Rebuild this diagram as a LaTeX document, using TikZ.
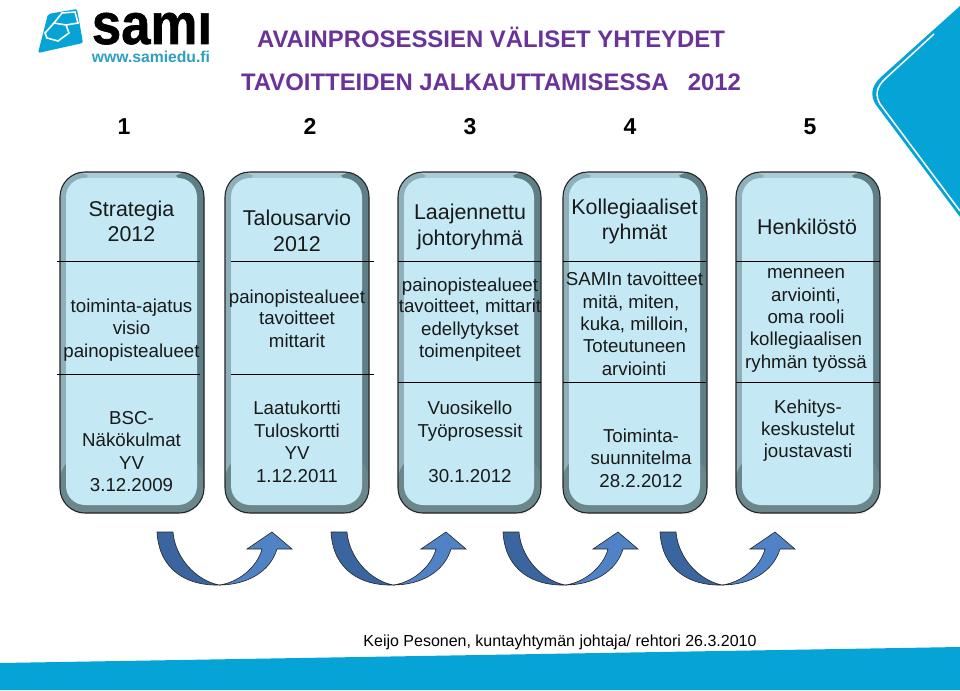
\documentclass[tikz,border=0pt]{standalone}
\usepackage{fontspec}
\setmainfont{Liberation Sans}
\usetikzlibrary{calc}
\definecolor{cardfill}{HTML}{C4E9F5}
\definecolor{bevL}{HTML}{8FB0BA}
\definecolor{bevT}{HTML}{A9CCD6}
\definecolor{bevR}{HTML}{5F7F86}
\definecolor{bevB}{HTML}{6A878C}
\definecolor{titlec}{HTML}{6A3399}
\definecolor{sky}{HTML}{05A3D6}
\definecolor{urlc}{HTML}{2E9FC0}
\definecolor{arrowA}{HTML}{3A659F}
\definecolor{arrowB}{HTML}{5082C6}
\tikzset{
 x=1pt,y=-1pt,
 ttl/.style={font=\fontsize{23.9}{24}\selectfont\bfseries,text=titlec,inner sep=0pt,text height=17pt,text depth=0pt},
 num/.style={font=\fontsize{23}{24}\selectfont\bfseries,inner sep=0pt,text height=16pt,text depth=0pt},
 hd/.style={font=\fontsize{21.4}{24}\selectfont,inner sep=0pt,text=black!90,text height=15pt,text depth=0pt},
 bd/.style={font=\fontsize{18.7}{22}\selectfont,inner sep=0pt,text=black!90,text height=13pt,text depth=0pt},
 foot/.style={font=\fontsize{16}{20}\selectfont,inner sep=0pt,text height=12pt,text depth=0pt},
 sepline/.style={black,line width=0.8pt},
 blockarrow/.style={draw=black!85,line width=0.6pt,line join=miter},
}
\newcommand{\card}[3]{% name, x left, x right
 \begin{scope}
 \fill[bevT,rounded corners=25pt] (#2,172) rectangle (#3,513);
 \fill[bevL,rounded corners=25pt] (#2,172) rectangle ($(#2,513)+(40,0)$);
 \fill[bevR,rounded corners=25pt] ($(#3,172)+(-40,0)$) rectangle (#3,513);
 \fill[bevT,rounded corners=20pt] ($(#2,172)+(20,0)$) rectangle ($(#3,230)+(-20,0)$);
 \fill[bevB,rounded corners=25pt] (#2,455) rectangle (#3,513);
 \fill[cardfill,rounded corners=19pt] ($(#2,178)+(6,0)$) rectangle ($(#3,505)+(-7,0)$);
 \draw[black!85,line width=1.1pt,rounded corners=25pt] (#2,172) rectangle (#3,513);
 \coordinate (#1) at ($(#2,172)!0.5!(#3,513)$);
 \end{scope}
}
\newcommand{\curvearrow}[1]{%
 \begin{scope}[shift={(#1,0)}]
  \filldraw[blockarrow,fill=arrowA] (0,532) -- (16,532) .. controls (18,557) and (38,580) .. (62,585)
    .. controls (30,586) and (2,570) .. (0,532) -- cycle;
  \filldraw[blockarrow,fill=arrowB] (62,585) .. controls (80,583) and (100,568) .. (105,549)
    -- (90,549) -- (115,532) -- (135,549) -- (120,549)
    .. controls (113,572) and (90,585) .. (62,585) -- cycle;
 \end{scope}
}
\begin{document}
\begin{tikzpicture}
\useasboundingbox (0,0) rectangle (960,690);
\fill[white] (0,0) rectangle (960,690);
% corner and band
\fill[sky] (0,663) -- (960,647) -- (960,690) -- (0,690) -- cycle;
\fill[sky] (960,6) -- (881,77) .. controls (871,86) and (870,96) .. (876,105) -- (960,217) -- cycle;
\draw[white,line width=1.5pt] (934,34) -- (886,78) .. controls (876,87) and (875,95) .. (880,104) -- (960,211);
% logo
\fill[sky,rounded corners=2pt] (48,14) -- (77,9) -- (83,43) -- (38,53) -- cycle;
\draw[white,line width=1.6pt] (45,33) -- (54,23) -- (66,25) -- (69,33) -- (58,41) -- (47,38) -- cycle;
\draw[white,line width=1.6pt] (54,23) -- (62,13) -- (75,12) -- (78,23) -- (66,25);
\node[anchor=base,inner sep=0pt,font=\fontsize{58}{58}\selectfont\bfseries,text=black] (logoname) at (152,44) {\addfontfeature{FakeStretch=0.91,FakeBold=1}sami};
\fill[white] (185,0) rectangle (225,13.5);
\node[inner sep=0pt,font=\fontsize{15.7}{16}\selectfont\bfseries,text=urlc] (logourl) at (151,57) {www.samiedu.fi};
% titles
\node[ttl] (t1) at (491,39) {AVAINPROSESSIEN VÄLISET YHTEYDET};
\node[ttl] (t2) at (491,82) {TAVOITTEIDEN JALKAUTTAMISESSA\hspace{0.8em}2012};
\node[num] (n1) at (124,126) {1};
\node[num] (n2) at (310,126) {2};
\node[num] (n3) at (470,126) {3};
\node[num] (n4) at (630,126) {4};
\node[num] (n5) at (810,126) {5};
% cards
\card{c1}{60}{204}
\card{c2}{225}{369}
\card{c3}{398}{541}
\card{c4}{563}{707}
\card{c5}{736}{880}
% separators
\draw[sepline] (57,261) -- (200,261);
\draw[sepline] (57,374) -- (200,374);
\draw[sepline] (231,261) -- (374,261);
\draw[sepline] (231,374) -- (374,374);
\draw[sepline] (398,261) -- (541,261);
\draw[sepline] (398,382) -- (541,382);
\draw[sepline] (563,261) -- (706,261);
\draw[sepline] (563,382) -- (706,382);
\draw[sepline] (736,261) -- (880,261);
\draw[sepline] (736,382) -- (880,382);
% card 1
\node[hd] (a1) at (131.5,209) {Strategia};
\node[hd] (a2) at (131.5,234) {2012};
\node[bd] (a3) at (131.5,306) {toiminta-ajatus};
\node[bd] (a4) at (131.5,328) {visio};
\node[bd] (a5) at (131.5,351) {painopistealueet};
\node[bd] (a6) at (131.5,418) {BSC-};
\node[bd] (a7) at (131.5,440) {Näkökulmat};
\node[bd] (a8) at (131.5,463) {YV};
\node[bd] (a9) at (131.5,485) {3.12.2009};
% card 2
\node[hd] (b1) at (297,218) {Talousarvio};
\node[hd] (b2) at (297,244) {2012};
\node[bd] (b3) at (297,297) {painopistealueet};
\node[bd] (b4) at (297,318) {tavoitteet};
\node[bd] (b5) at (297,341) {mittarit};
\node[bd] (b6) at (297,408) {Laatukortti};
\node[bd] (b7) at (297,431) {Tuloskortti};
\node[bd] (b8) at (297,453) {YV};
\node[bd] (b9) at (297,476) {1.12.2011};
% card 3
\node[hd] (d1) at (470,212) {Laajennettu};
\node[hd] (d2) at (470,238) {johtoryhmä};
\node[bd] (d3) at (470,285) {painopistealueet};
\node[bd] (d4) at (470,306) {tavoitteet, mittarit};
\node[bd] (d5) at (470,329) {edellytykset};
\node[bd] (d6) at (470,351) {toimenpiteet};
\node[bd] (d7) at (470,408) {Vuosikello};
\node[bd] (d8) at (470,431) {Työprosessit};
\node[bd] (d9) at (470,476) {30.1.2012};
% card 4
\node[hd] (e1) at (634.5,207) {Kollegiaaliset};
\node[hd] (e2) at (634.5,232) {ryhmät};
\node[bd] (e3) at (634.5,279) {SAMIn tavoitteet};
\node[bd] (e4) at (631,302) {mitä, miten,};
\node[bd] (e5) at (634.5,324) {kuka, milloin,};
\node[bd] (e6) at (634.5,346) {Toteutuneen};
\node[bd] (e7) at (634,369) {arviointi};
\node[bd] (e8) at (641,436) {Toiminta-};
\node[bd] (e9) at (641,458) {suunnitelma};
\node[bd] (e10) at (641,481) {28.2.2012};
% card 5
\node[hd] (f1) at (807,227) {Henkilöstö};
\node[bd] (f2) at (806,272) {menneen};
\node[bd] (f3) at (806,295) {arviointi,};
\node[bd] (f4) at (806,317) {oma rooli};
\node[bd] (f5) at (806,339) {kollegiaalisen};
\node[bd] (f6) at (806,362) {ryhmän työssä};
\node[bd] (f7) at (808,407) {Kehitys-};
\node[bd] (f8) at (808,429) {keskustelut};
\node[bd] (f9) at (808,451) {joustavasti};
% arrows
\curvearrow{157}
\curvearrow{331}
\curvearrow{503}
\curvearrow{660}
% footer
\node[foot] (ft) at (560,640) {Keijo Pesonen, kuntayhtymän johtaja/ rehtori 26.3.2010};
\end{tikzpicture}
\end{document}
